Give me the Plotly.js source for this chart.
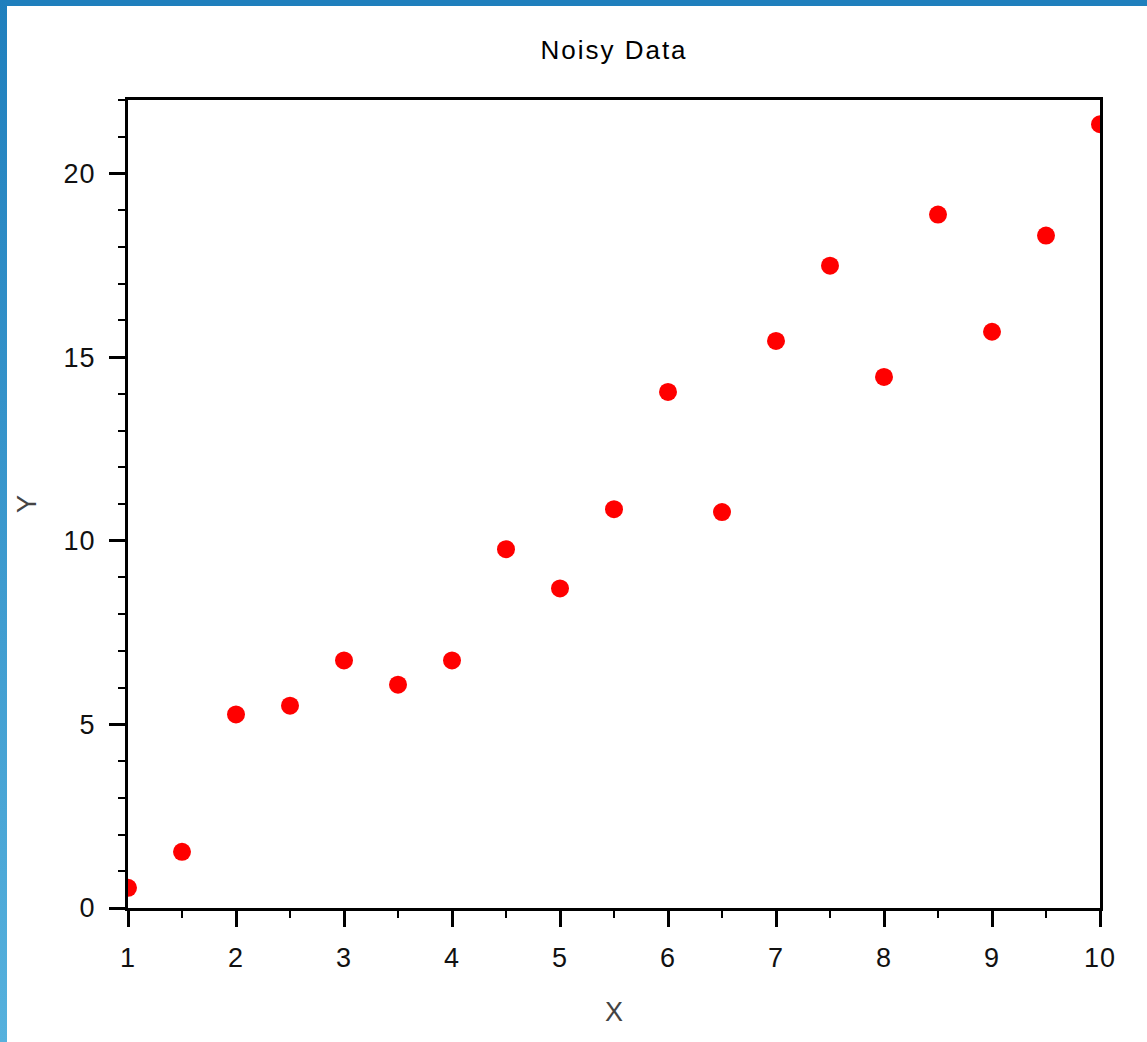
<!DOCTYPE html>
<html>
<head>
<meta charset="utf-8">
<script src="https://cdn.plot.ly/plotly-3.0.1.min.js"></script>
<style>
  html, body { margin: 0; padding: 0; background: #ffffff; }
  #wrap { position: relative; width: 1147px; height: 1042px; overflow: hidden; }
  #chart { position: absolute; left: 0; top: 0; width: 1147px; height: 1042px; }
  #topbar { position: absolute; left: 0; top: 0; width: 1147px; height: 6px; background: #1f7fbd; pointer-events: none; }
  #leftbar { position: absolute; left: 0; top: 0; width: 7px; height: 1042px; background: linear-gradient(#1f7fbd, #56b1dd); pointer-events: none; }
  #chart .gtitle { letter-spacing: 2px; }
  #chart .xtick text, #chart .ytick text { letter-spacing: 1px; }
</style>
</head>
<body>
<div id="wrap">
  <div id="chart"></div>
  <div id="topbar"></div>
  <div id="leftbar"></div>
</div>
<script>
// Data
const xValues = [1, 1.5, 2, 2.5, 3, 3.5, 4, 4.5, 5, 5.5, 6, 6.5, 7, 7.5, 8, 8.5, 9, 9.5, 10];
const yValues = [0.55, 1.53, 5.27, 5.51, 6.74, 6.08, 6.74, 9.77, 8.70, 10.86, 14.05, 10.78, 15.44, 17.49, 14.46, 18.88, 15.69, 18.31, 21.34];
const xTickVals = [1, 2, 3, 4, 5, 6, 7, 8, 9, 10];
const yTickVals = [0, 5, 10, 15, 20];
const chartTitle = "Noisy Data";
const xTitle = "X";
const yTitle = "Y";

const fontFamily = '"Liberation Sans", Arial, sans-serif';

const trace = {
  type: 'scatter',
  mode: 'markers',
  x: xValues,
  y: yValues,
  marker: { color: '#ff0000', size: 18, line: { width: 0 } },
  cliponaxis: true,
  hoverinfo: 'x+y'
};

const axisCommon = {
  showgrid: false,
  zeroline: false,
  showline: true,
  linecolor: '#000000',
  linewidth: 3,
  mirror: true,
  ticks: 'outside',
  ticklen: 16,
  tickwidth: 3,
  tickcolor: '#000000',
  tickfont: { family: fontFamily, size: 27, color: '#111111' },
  ticklabelstandoff: 8
};

const layout = {
  width: 1147,
  height: 1042,
  margin: { l: 128, r: 47, t: 100, b: 134 },
  paper_bgcolor: '#ffffff',
  plot_bgcolor: '#ffffff',
  showlegend: false,
  title: {
    text: chartTitle,
    font: { family: fontFamily, size: 26, color: '#000000' },
    x: 0.5, xref: 'paper', xanchor: 'center',
    y: 1 - 50 / 1042, yref: 'container', yanchor: 'middle'
  },
  xaxis: Object.assign({}, axisCommon, {
    range: [1, 10],
    tickmode: 'array',
    tickvals: xTickVals,
    ticktext: xTickVals.map(String),
    minor: { dtick: 0.5, tick0: 1, ticks: 'outside', ticklen: 7, tickwidth: 2, tickcolor: '#000000', showgrid: false },
    title: { text: xTitle, font: { family: fontFamily, size: 27, color: '#444444' }, standoff: 30 }
  }),
  yaxis: Object.assign({}, axisCommon, {
    range: [0, 22],
    tickmode: 'array',
    tickvals: yTickVals,
    ticktext: yTickVals.map(String),
    minor: { dtick: 1, tick0: 0, ticks: 'outside', ticklen: 7, tickwidth: 2, tickcolor: '#000000', showgrid: false },
    title: { text: yTitle, font: { family: fontFamily, size: 27, color: '#444444' }, standoff: 22 }
  })
};

Plotly.newPlot('chart', [trace], layout, { displayModeBar: false, staticPlot: false });
</script>
</body>
</html>
